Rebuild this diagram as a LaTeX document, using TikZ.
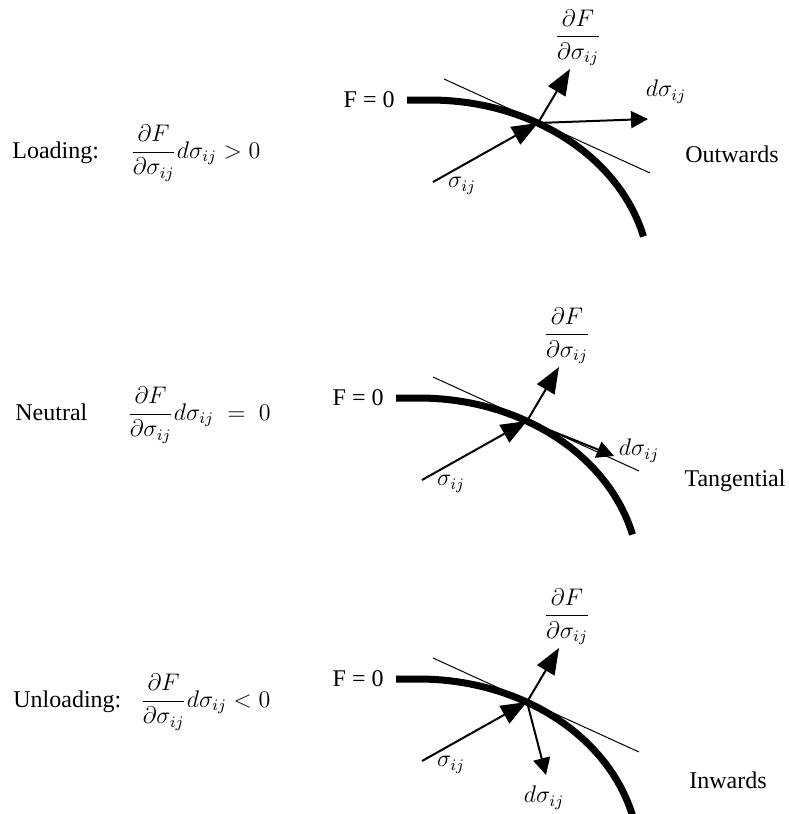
\documentclass[tikz,border=0pt]{standalone}
\usepackage{amsmath}
\usepackage{fontspec}
\setmainfont{Liberation Serif}
\usetikzlibrary{calc,arrows.meta}

\begin{document}
\begin{tikzpicture}[x=0.5pt,y=-0.5pt,
        txt/.style={font=\fontsize{12pt}{14pt}\selectfont, inner sep=0pt},
        yieldline/.style={line width=3.5pt},
        tangline/.style={line width=0.5pt},
        bigarrow/.style={line width=1pt, -{Triangle[length=13pt,width=10pt]}},
        smallarrow/.style={line width=1pt, -{Triangle[length=8.5pt,width=8.5pt]}}]
        \useasboundingbox (0,0) rectangle (788,814);

        % the three cases share the surface, the tangent, the normal and the stress
        \foreach \i/\dx/\dy in {1/0/0, 2/-11/298, 3/-11/579}{
            \coordinate (P\i) at ({538+\dx},{123+\dy});
            \coordinate (A\i) at ({407+\dx},{100+\dy});
            \draw [yieldline] (A\i) -- ({430+\dx},{100+\dy}) -- plot[domain=90:14, samples=40] ({430+\dx+220*cos(\x)},{280+\dy-180*sin(\x)});
            \node [txt, anchor=east] (F\i) at ($(A\i)+(-12,0)$) {F = 0};

            \coordinate (Ta\i) at ($(P\i)+(-94,-44)$);
            \coordinate (Tb\i) at ($(P\i)+(112,50)$);
            \draw [tangline] (Ta\i) -- (Tb\i);

            \coordinate (N\i) at ($(P\i)+(32,-54)$);
            \draw [bigarrow] (P\i) -- (N\i);
            \node [txt] (dF\i) at ($(P\i)+(40,-85)$) {$\dfrac{\partial F}{\partial\sigma_{ij}}$};

            \coordinate (B\i) at ($(P\i)+(-105,59)$);
            \draw [bigarrow] (B\i) -- (P\i);
            \node [txt] (s\i) at ($(P\i)+(-76,63)$) {$\sigma_{ij}$};
        }

        % loading
        \node [txt, anchor=base west] (L1) at (12,158) {Loading:};
        \node [txt, anchor=base west] (E1) at (130,158) {$\dfrac{\partial F}{\partial\sigma_{ij}}d\sigma_{ij} > 0$};
        \coordinate (G1) at ($(P1)+(110,-4)$);
        \draw [smallarrow] (P1) -- (G1);
        \node [txt] (ds1) at ($(P1)+(128,-31)$) {$d\sigma_{ij}$};
        \node [txt] (W1) at ($(P1)+(194,31)$) {Outwards};

        % neutral
        \node [txt, anchor=base west] (L2) at (15,420) {Neutral};
        \node [txt, anchor=base west] (E2) at (127,420) {$\dfrac{\partial F}{\partial\sigma_{ij}}d\sigma_{ij}\;=\;0$};
        \coordinate (G2) at ($(P2)+(87,35)$);
        \draw [smallarrow] (P2) -- (G2);
        \node [txt] (ds2) at ($(P2)+(112,30)$) {$d\sigma_{ij}$};
        \node [txt] (W2) at ($(P2)+(208,60)$) {Tangential};

        % unloading
        \node [txt, anchor=base west] (L3) at (13,707) {Unloading:};
        \node [txt, anchor=base west] (E3) at (140,707) {$\dfrac{\partial F}{\partial\sigma_{ij}}d\sigma_{ij} < 0$};
        \coordinate (G3) at ($(P3)+(19,73)$);
        \draw [smallarrow] (P3) -- (G3);
        \node [txt] (ds3) at ($(P3)+(17,96)$) {$d\sigma_{ij}$};
        \node [txt] (W3) at ($(P3)+(201,78)$) {Inwards};
\end{tikzpicture}
\end{document}
